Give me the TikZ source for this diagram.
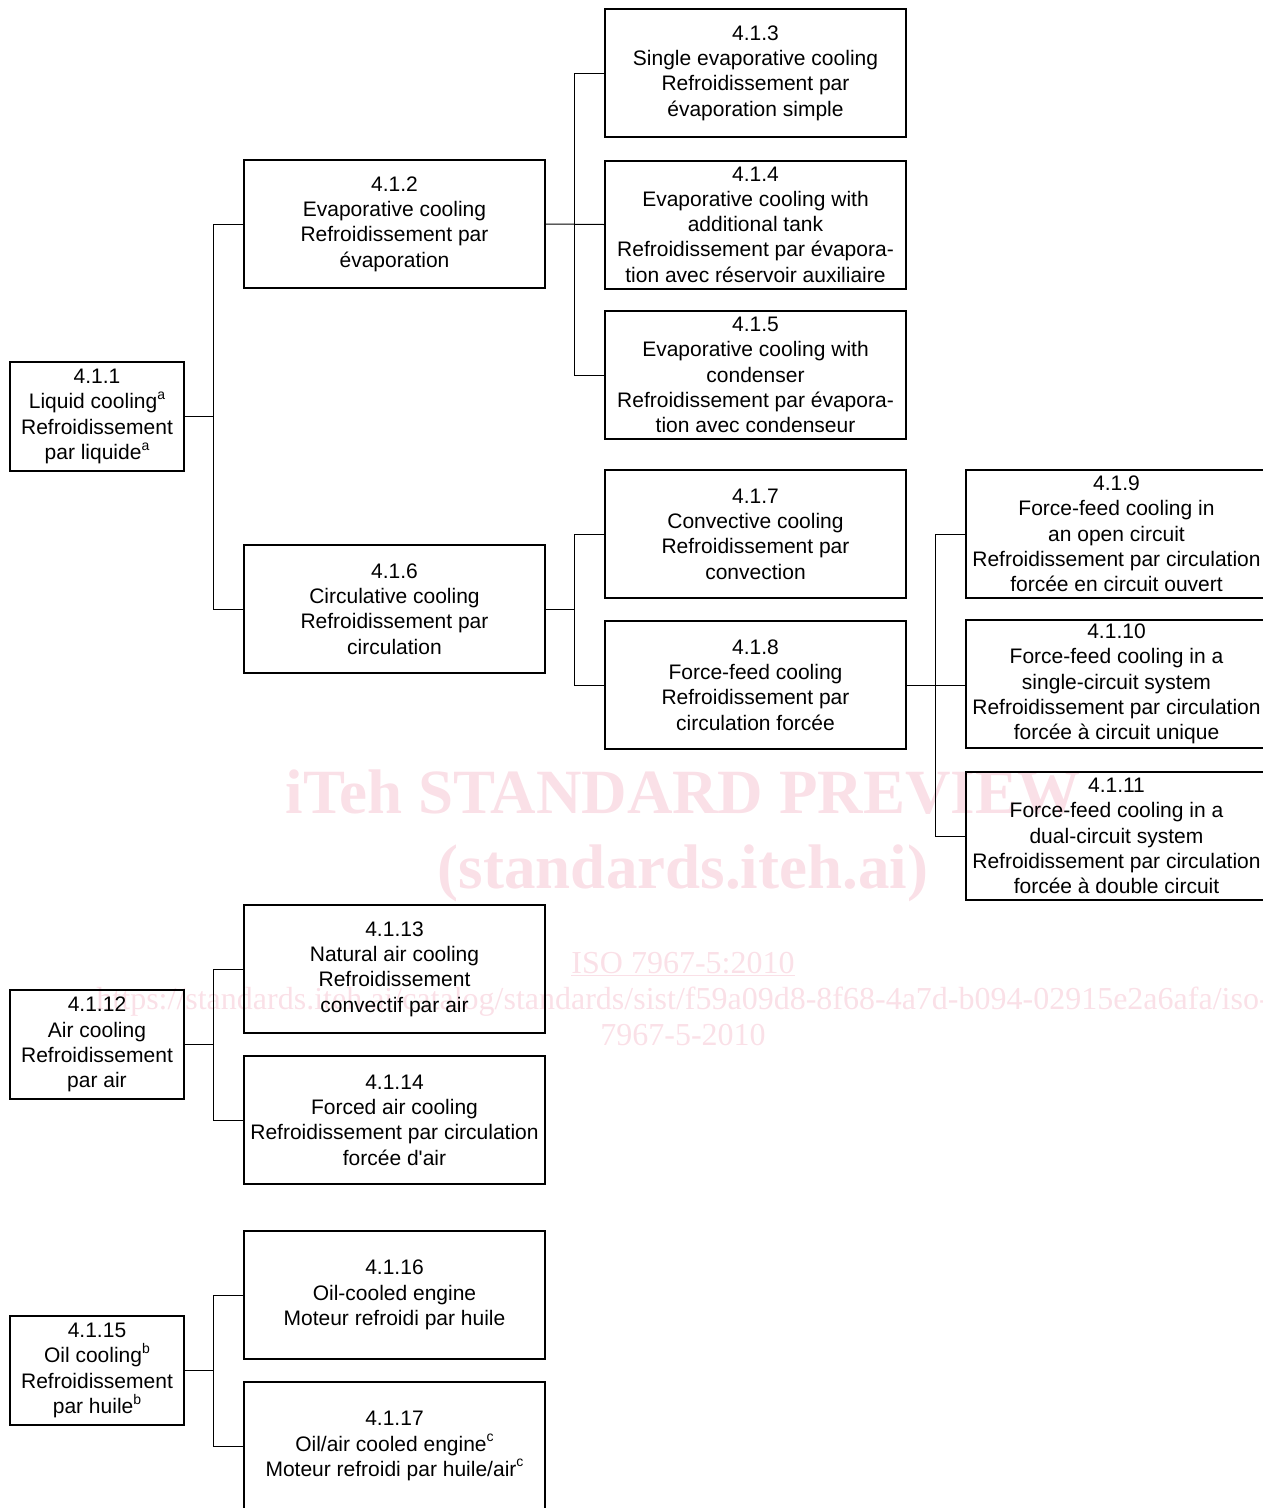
\documentclass[tikz,border=0pt]{standalone}
\usepackage{fontspec}
\setmainfont{Liberation Sans}
\newfontfamily\rawsans{Liberation Sans}[Ligatures=TeXOff]
\newfontfamily\wmfont{Liberation Serif}
\definecolor{wmpink}{RGB}{250,224,231}
\newcommand\sups[1]{\raisebox{0.45em}{\fontsize{14}{14}\selectfont #1}}
\begin{document}
\begin{tikzpicture}[x=1pt,y=-1pt,
  box/.style={draw, line width=2pt, rectangle, inner sep=0pt, align=center,
    font=\fontsize{21}{25.3}\selectfont, minimum width=301pt, minimum height=128pt},
  smallbox/.style={box, minimum width=174pt, minimum height=109pt},
  conn/.style={line width=1pt},
  wm/.style={text=wmpink, inner sep=0pt, anchor=base}]
\useasboundingbox (0,0) rectangle (1263,1508);
\clip (0,0) rectangle (1263,1508);
% watermark
\node[wm, font=\wmfont\bfseries\fontsize{63}{63}\selectfont] (w1) at (683,813) {iTeh STANDARD PREVIEW};
\node[wm, font=\wmfont\bfseries\fontsize{63}{63}\selectfont] (w2) at (683,888) {(standards.iteh.ai)};
\node[wm, font=\wmfont\fontsize{32}{32}\selectfont] (w3) at (683,973) {\underline{ISO 7967-5:2010}};
\node[wm, font=\wmfont\fontsize{32}{32}\selectfont] (w4) at (683,1009) {https://standards.iteh.ai/catalog/standards/sist/f59a09d8-8f68-4a7d-b094-02915e2a6afa/iso-};
\node[wm, font=\wmfont\fontsize{32}{32}\selectfont] (w5) at (683,1045) {7967-5-2010};
% boxes
\node[smallbox] (n411) at (97,416.5) {4.1.1\\Liquid cooling\sups{a}\\Refroidissement\\par liquide\sups{a}};
\node[box] (n412) at (394.5,224) {4.1.2\\Evaporative cooling\\Refroidissement par\\évaporation};
\node[box] (n413) at (755.5,73) {4.1.3\\Single evaporative cooling\\Refroidissement par\\évaporation simple};
\node[box] (n414) at (755.5,224.5) {4.1.4\\Evaporative cooling with\\additional tank\\Refroidissement par évapora-\\tion avec réservoir auxiliaire};
\node[box] (n415) at (755.5,375) {4.1.5\\Evaporative cooling with\\condenser\\Refroidissement par évapora-\\tion avec condenseur};
\node[box] (n416) at (394.5,609) {4.1.6\\Circulative cooling\\Refroidissement par\\circulation};
\node[box] (n417) at (755.5,534) {4.1.7\\Convective cooling\\Refroidissement par\\convection};
\node[box] (n418) at (755.5,685) {4.1.8\\Force-feed cooling\\Refroidissement par\\circulation forcée};
\node[box] (n419) at (1116.5,534) {4.1.9\\Force-feed cooling in\\an open circuit\\Refroidissement par circulation\\forcée en circuit ouvert};
\node[box] (n4110) at (1116.5,684) {4.1.10\\Force-feed cooling in a\\single-circuit system\\Refroidissement par circulation\\forcée à circuit unique};
\node[box] (n4111) at (1116.5,836) {4.1.11\\Force-feed cooling in a\\dual-circuit system\\Refroidissement par circulation\\forcée à double circuit};
\node[smallbox] (n4112) at (97,1044.5) {4.1.12\\Air cooling\\Refroidissement\\par air};
\node[box] (n4113) at (394.5,969) {4.1.13\\Natural air cooling\\Refroidissement\\convectif par air};
\node[box] (n4114) at (394.5,1120) {4.1.14\\Forced air cooling\\Refroidissement par circulation\\forcée d{\rawsans'}air};
\node[smallbox] (n4115) at (97,1370.5) {4.1.15\\Oil cooling\sups{b}\\Refroidissement\\par huile\sups{b}};
\node[box] (n4116) at (394.5,1295) {4.1.16\\Oil-cooled engine\\Moteur refroidi par huile};
\node[box] (n4117) at (394.5,1446) {4.1.17\\Oil/air cooled engine\sups{c}\\Moteur refroidi par huile/air\sups{c}};
% connectors
\draw[conn] (n412.west) -- ++(-30,0) coordinate (b1) |- (n416.west);
\draw[conn] (n411.east) -- (n411.east -| b1);
\draw[conn] (n413.west) -- ++(-30,0) coordinate (b2) |- (n415.west);
\draw[conn] (n412.east) -- (n414.west);
\draw[conn] (n417.west) -- ++(-30,0) coordinate (b3) |- (n418.west);
\draw[conn] (n416.east) -- (n416.east -| b3);
\draw[conn] (n419.west) -- ++(-30,0) coordinate (b4) |- (n4111.west);
\draw[conn] (n418.east) -- (n418.east -| n4110.west);
\draw[conn] (n4113.west) -- ++(-30,0) coordinate (b5) |- (n4114.west);
\draw[conn] (n4112.east) -- (n4112.east -| b5);
\draw[conn] (n4116.west) -- ++(-30,0) coordinate (b6) |- (n4117.west);
\draw[conn] (n4115.east) -- (n4115.east -| b6);
\end{tikzpicture}
\end{document}
